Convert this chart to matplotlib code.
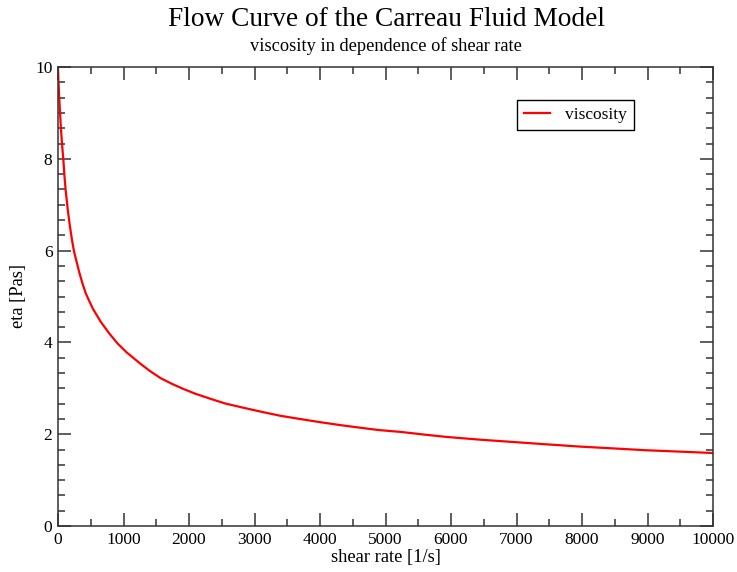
import matplotlib
matplotlib.use('Agg')
import matplotlib.pyplot as plt
from matplotlib.ticker import MultipleLocator

# values
shear_rate = [0, 5, 20, 41, 60, 82, 100, 118, 150, 183, 215, 245, 280, 320,
              370, 423, 530, 652, 780, 907, 1050, 1186, 1263, 1400, 1568,
              1750, 1924, 2100, 2331, 2550, 2789, 3100, 3400, 3700, 4011,
              4300, 4621, 4900, 5232, 5600, 5934, 6450, 6951, 7450, 7969,
              8480, 8987, 9500, 10000]
viscosity = [10.0, 9.75, 9.3, 8.75, 8.35, 7.97, 7.6, 7.3, 6.88, 6.52, 6.22,
             5.98, 5.78, 5.55, 5.3, 5.07, 4.74, 4.45, 4.2, 3.98, 3.78, 3.62,
             3.53, 3.38, 3.22, 3.09, 2.98, 2.88, 2.77, 2.67, 2.59, 2.49,
             2.40, 2.33, 2.26, 2.20, 2.14, 2.09, 2.05, 1.99, 1.94, 1.88,
             1.83, 1.78, 1.73, 1.69, 1.65, 1.62, 1.59]

plt.rcParams['font.family'] = ['Liberation Serif', 'DejaVu Serif']

fig = plt.figure(figsize=(7.37, 5.72), dpi=100)
ax = fig.add_axes([58/737, 46/572, 655/737, 459/572])

ax.plot(shear_rate, viscosity, color='#ff0000', lw=1.6, label='viscosity')

ax.set_xlim(0, 10000)
ax.set_ylim(0, 10)
ax.xaxis.set_major_locator(MultipleLocator(1000))
ax.xaxis.set_minor_locator(MultipleLocator(500))
ax.yaxis.set_major_locator(MultipleLocator(2))
ax.yaxis.set_minor_locator(MultipleLocator(2/6))

ax.tick_params(which='both', direction='in', top=True, right=True,
               labelsize=12.5, color='#333333', width=1.1)
ax.tick_params(which='major', length=9.5, pad=4)
ax.tick_params(which='minor', length=5)
for s in ax.spines.values():
    s.set_linewidth(1.1)
    s.set_color('#333333')

ax.set_xlabel('shear rate [1/s]', fontsize=13.3, labelpad=1)
ax.set_ylabel('eta [Pas]', fontsize=13.3, labelpad=6)

fig.text(0.5 + 18/737, 1 - 20/572, 'Flow Curve of the Carreau Fluid Model',
         ha='center', va='center', fontsize=19.7)
fig.text(0.5 + 17/737, 1 - 46/572, 'viscosity in dependence of shear rate',
         ha='center', va='center', fontsize=13.2)

leg = ax.legend(loc='upper left', bbox_to_anchor=(459/655, 1 - 33/459),
                fontsize=12.5, fancybox=False, framealpha=1,
                edgecolor='black', handlelength=1.5, handletextpad=0.85,
                borderpad=0.4, borderaxespad=0)
leg.get_frame().set_linewidth(1.0)

plt.savefig('out.png', dpi=100)
plt.close()
